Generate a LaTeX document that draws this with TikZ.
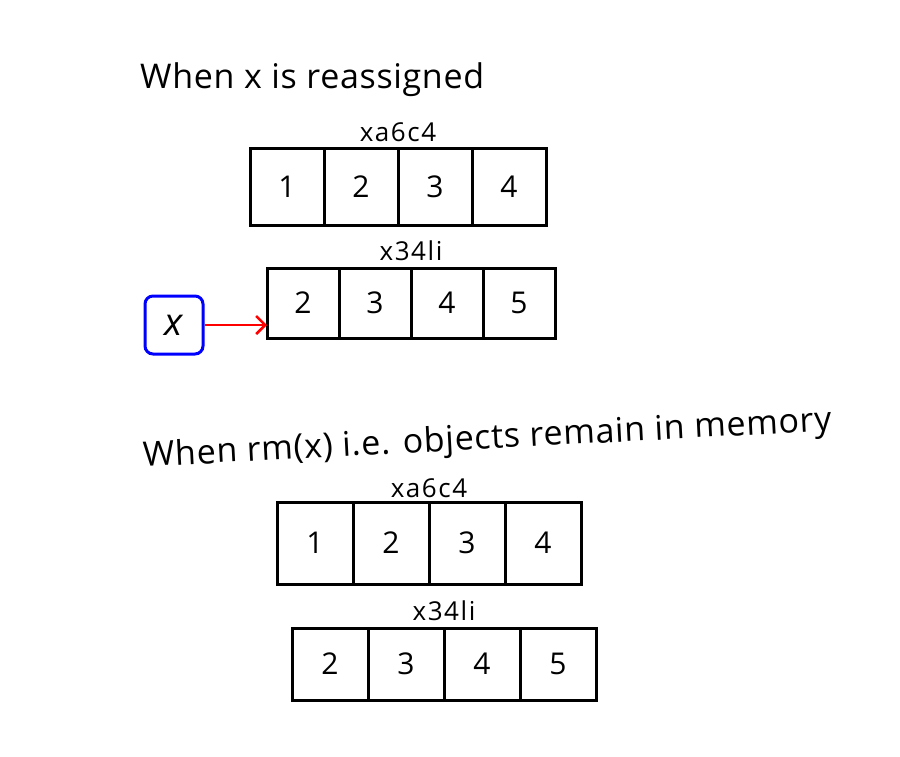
\documentclass[tikz,border=0pt]{standalone}
\usepackage{fontspec}
\setmainfont{Open Sans}
\usetikzlibrary{positioning,arrows.meta}

\tikzset{
  cell/.style={draw,line width=3pt,outer sep=0pt,inner sep=0pt,font=\fontsize{30}{34}\selectfont},
  addr/.style={font=\fontsize{26}{30}\selectfont\addfontfeature{LetterSpace=6},inner sep=1pt},
  heading/.style={font=\fontsize{34}{40}\selectfont\addfontfeature{LetterSpace=2},anchor=west,inner sep=0pt},
}

\begin{document}
\begin{tikzpicture}[x=1pt,y=-1pt]
\useasboundingbox[fill=white] (0,0) rectangle (900,756);

% first heading
\node[heading] (head1) at (140,80) {When x is reassigned};

% old object
\node[cell,minimum width=74pt,minimum height=77pt] (a1c1) at (287,187) {1};
\node[cell,minimum width=74pt,minimum height=77pt,right=0pt of a1c1] (a1c2) {2};
\node[cell,minimum width=74pt,minimum height=77pt,right=0pt of a1c2] (a1c3) {3};
\node[cell,minimum width=74pt,minimum height=77pt,right=0pt of a1c3] (a1c4) {4};
\node[addr,above=6pt of a1c2.north east] (addr1) {xa6c4};

% new object
\node[cell,minimum width=72pt,minimum height=70pt] (a2c1) at (303,303) {2};
\node[cell,minimum width=72pt,minimum height=70pt,right=0pt of a2c1] (a2c2) {3};
\node[cell,minimum width=72pt,minimum height=70pt,right=0pt of a2c2] (a2c3) {4};
\node[cell,minimum width=72pt,minimum height=70pt,right=0pt of a2c3] (a2c4) {5};
\node[addr,above=6pt of a2c2.north east] (addr2) {x34li};

% name x
\node[draw=blue,line width=3pt,rounded corners=8pt,minimum size=58pt,
  font=\fontsize{38}{42}\selectfont\itshape] (xvar) at (174,325) {x};
\draw[red,line width=2.5pt,-{Straight Barb[length=9pt,width=18pt]}]
  (xvar.east) -- (xvar.east -| a2c1.west);

% second heading
\node[heading,rotate=3] (head2) at (143,458) {When rm(x) i.e. objects remain in memory};

% old object, after rm
\node[cell,minimum width=76pt,minimum height=82pt] (a3c1) at (315,543) {1};
\node[cell,minimum width=76pt,minimum height=82pt,right=0pt of a3c1] (a3c2) {2};
\node[cell,minimum width=76pt,minimum height=82pt,right=0pt of a3c2] (a3c3) {3};
\node[cell,minimum width=76pt,minimum height=82pt,right=0pt of a3c3] (a3c4) {4};
\node[addr,above=3pt of a3c2.north east] (addr3) {xa6c4};

% new object, after rm
\node[cell,minimum width=76pt,minimum height=72pt] (a4c1) at (330,664) {2};
\node[cell,minimum width=76pt,minimum height=72pt,right=0pt of a4c1] (a4c2) {3};
\node[cell,minimum width=76pt,minimum height=72pt,right=0pt of a4c2] (a4c3) {4};
\node[cell,minimum width=76pt,minimum height=72pt,right=0pt of a4c3] (a4c4) {5};
\node[addr,above=6pt of a4c2.north east] (addr4) {x34li};

\end{tikzpicture}
\end{document}
